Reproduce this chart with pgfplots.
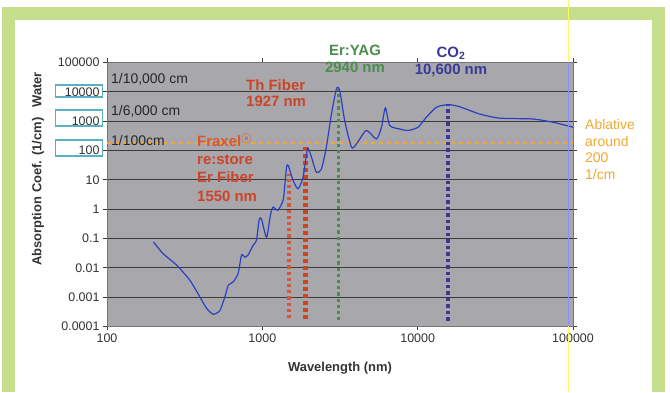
\documentclass[border=0pt]{standalone}
\usepackage{pgfplots}
\pgfplotsset{compat=1.18}
\usepackage{fontspec}
\setmainfont{Liberation Sans}
\definecolor{frame}{HTML}{C6DF8C}
\definecolor{plotgray}{HTML}{A8A8AC}
\definecolor{gridc}{HTML}{3A3A3A}
\definecolor{curve}{HTML}{2B3FC2}
\definecolor{fibred}{HTML}{CC4428}
\definecolor{fraxor}{HTML}{D8572E}
\definecolor{yagg}{HTML}{4A8D4E}
\definecolor{codark}{HTML}{3A3A96}
\definecolor{ablor}{HTML}{F0A830}
\definecolor{boxc}{HTML}{5AB0C4}
\definecolor{tickc}{HTML}{333333}
\begin{document}
\begin{tikzpicture}
\begin{scope}[x=1bp,y=1bp]
\path[use as bounding box] (0,0) rectangle (670,392);
\fill[white] (0,0) rectangle (670,392);
% green frame
\fill[frame] (2,372) rectangle (665,385);
\fill[frame] (2,0) rectangle (15,385);
\fill[frame] (652,0) rectangle (665,385);
\end{scope}
\begin{axis}[
  at={(107bp,66bp)}, anchor=south west,
  width=466bp, height=264bp, scale only axis,
  xmode=log, ymode=log,
  xmin=100, xmax=100000, ymin=1e-4, ymax=1e5,
  axis background/.style={fill=plotgray},
  axis line style={gridc!70, line width=0.6bp},
  ymajorgrids, grid style={gridc, line width=0.8bp},
  xminorticks=false, yminorticks=false,
  tick align=outside, major tick length=4bp,
  tick style={gridc, line width=0.6bp},
  xtick={100,1000,10000,100000},
  xticklabels={100,1000,10000,100000},
  ytick={1e-4,1e-3,1e-2,1e-1,1,10,100,1000,10000,100000},
  yticklabels={0.0001,0.001,0.01,0.1,1,10,100,1000,10000,100000},
  ticklabel style={font=\fontsize{12.5}{14}\selectfont, text=tickc},
  /pgf/number format/assume math mode=true,
  clip=false,
]
% ablative threshold
\addplot[ablor, line width=2.6bp, dash pattern=on 4bp off 4bp] coordinates {(100,180) (100000,180)};
% laser wavelength markers
\addplot[fibred!90, line width=3.2bp, dash pattern=on 3.2bp off 3bp] coordinates {(1485,1.9e-4) (1485,16)};
\addplot[fibred, line width=4.5bp, dash pattern=on 4bp off 3bp] coordinates {(1900,1.8e-4) (1900,130)};
\addplot[yagg, line width=3.2bp, dash pattern=on 3.2bp off 3bp] coordinates {(3110,1.6e-4) (3110,12000)};
\addplot[codark, line width=3.8bp, dash pattern=on 3.5bp off 3bp] coordinates {(15600,1.55e-4) (15600,3500)};
% water absorption
\addplot[curve, line width=1.2bp, smooth, tension=0.4] coordinates {
(199,0.076) (230,0.030) (281,0.0122) (342,0.0037) (396,0.00102) (438,0.00041)
(483,0.00026) (533,0.00035) (574,0.00102) (603,0.0025) (649,0.0033) (698,0.0063)
(735,0.027) (771,0.023) (809,0.027) (873,0.059) (916,0.085) (953,0.42) (986,0.47)
(1064,0.11) (1127,0.62) (1172,1.17) (1259,0.91) (1361,2.0) (1400,8) (1432,27) (1466,31)
(1578,9.5) (1698,4.9) (1828,12.3) (1950,110) (2000,100) (2070,60) (2228,18) (2399,23)
(2582,129) (2786,1740) (3000,12600) (3148,11000) (3388,1050) (3750,129) (4036,166)
(4677,479) (5420,245) (5848,617) (6194,2820) (6607,708) (7656,537) (8670,479)
(10050,617) (11380,1350) (13180,2950) (15670,3630) (18620,3090) (25060,1740)
(33650,1260) (55200,1175) (74130,912) (90360,708) (100000,617)
};
\end{axis}
\begin{scope}[x=1bp,y=1bp]
% boxes around some tick labels
\draw[boxc, line width=1.3bp] (55.5,392-96.5) rectangle (102.5,392-84.5);
\draw[boxc, line width=1.3bp] (55.5,392-125.5) rectangle (102.5,392-109.5);
\draw[boxc, line width=1.3bp] (55.5,392-155.5) rectangle (102.5,392-139.5);
% artefact lines
\draw[yellow!60!white, line width=0.8bp] (568,0) -- (568,392);
\draw[blue!45!white, line width=0.8bp] (568,66) -- (568,330);
% axis labels
\node[rotate=90, font=\fontsize{13}{15}\selectfont\bfseries, text=tickc] at (38,392-168.5) {Absorption Coef. (1/cm)\hspace{10bp}Water};
\node[font=\fontsize{13}{15}\selectfont\bfseries, text=tickc] at (340,392-368) {Wavelength (nm)};
% gridline annotations
\node[anchor=west, inner sep=0, font=\fontsize{14}{16}\selectfont, text=black!85] at (111,392-79) {1/10,000 cm};
\node[anchor=west, inner sep=0, font=\fontsize{14}{16}\selectfont, text=black!85] at (111,392-111) {1/6,000 cm};
\node[anchor=west, inner sep=0, font=\fontsize{14}{16}\selectfont, text=black!85] at (111,392-140.5) {1/100cm};
% laser labels
\node[anchor=north west, inner sep=0, align=left, font=\fontsize{15}{16.5}\selectfont\bfseries, text=fibred] at (246,392-79) {Th Fiber\\1927 nm};
\node[anchor=north west, inner sep=0, align=left, font=\fontsize{15}{18.3}\selectfont\bfseries, text=fibred] at (197,392-135) {\textcolor{fraxor}{Fraxel\textsuperscript{\textcircled{\tiny R}}}\\re:store\\Er Fiber\\1550 nm};
\node[anchor=north, inner sep=0, align=center, font=\fontsize{15}{18}\selectfont\bfseries, text=yagg] at (355,392-44) {Er:YAG\\2940 nm};
\node[anchor=north, inner sep=0, align=center, font=\fontsize{15}{18}\selectfont\bfseries, text=codark] at (451,392-46) {CO\textsubscript{2}\\10,600 nm};
\node[anchor=north west, inner sep=0, align=left, font=\fontsize{14}{16.5}\selectfont, text=ablor] at (585,392-119) {Ablative\\around\\200\\1/cm};
\end{scope}
\end{tikzpicture}
\end{document}
